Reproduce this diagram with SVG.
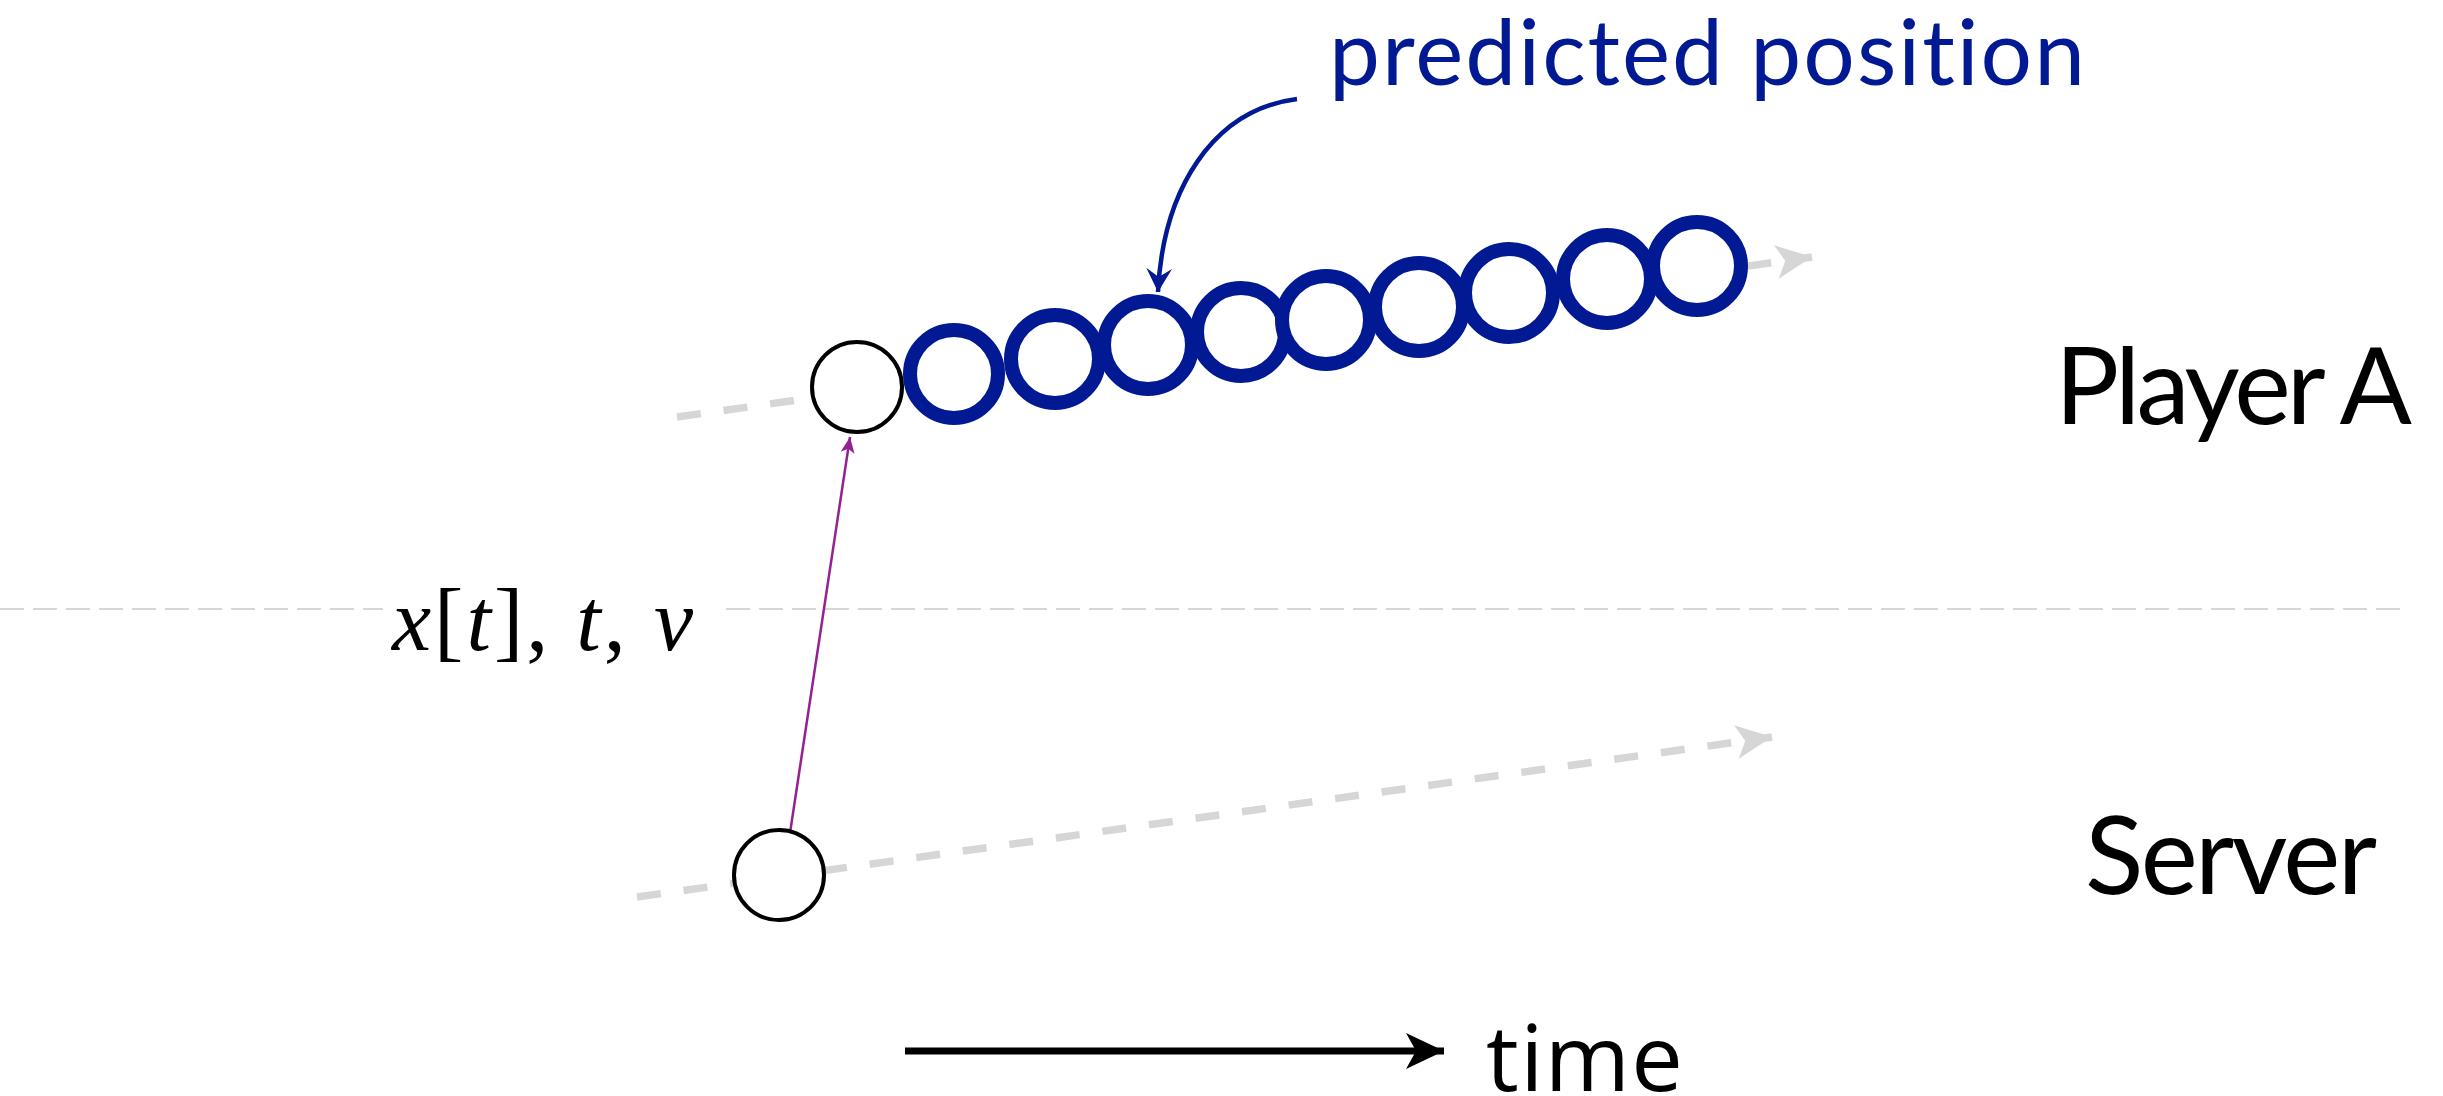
<svg xmlns="http://www.w3.org/2000/svg" width="2443" height="1096" viewBox="0 0 2443 1096">
  <style>
    .label { font-family: Lato, "Open Sans", "Liberation Sans", sans-serif; fill: #000; }
    .pred { font-family: Lato, "Open Sans", "Liberation Sans", sans-serif; fill: #011993; font-variant-ligatures: none; font-feature-settings: "liga" 0, "clig" 0, "dlig" 0, "calt" 0; }
    .math { font-family: "Liberation Serif", "DejaVu Serif", serif; fill: #000; }
    .track { fill: none; stroke: #d6d6d6; stroke-width: 7.5; stroke-dasharray: 24 23; }
    .sep { fill: none; stroke: #d6d6d6; stroke-width: 2; stroke-dasharray: 24 9; }
    .state { fill: #fff; stroke: #000; stroke-width: 4; }
    .pred-c { fill: #fff; stroke: #011993; stroke-width: 14; }
  </style>
  <defs>
    <marker id="grayHead" markerUnits="userSpaceOnUse" markerWidth="40" markerHeight="40" viewBox="-36 -20 40 40" refX="0" refY="0" orient="auto">
      <path d="M0,0 L-36,-17 L-27,0 L-36,17 Z" fill="#d6d6d6"/>
    </marker>
    <marker id="purpleHead" markerUnits="userSpaceOnUse" markerWidth="20" markerHeight="20" viewBox="-18 -10 20 20" refX="0" refY="0" orient="auto">
      <path d="M0,0 L-16,-7 L-12,0 L-16,7 Z" fill="#942193"/>
    </marker>
    <marker id="blueHead" markerUnits="userSpaceOnUse" markerWidth="30" markerHeight="30" viewBox="-24 -14 28 28" refX="0" refY="0" orient="auto">
      <path d="M0,0 L-22,-12 L-14,0 L-22,12 Z" fill="#011993"/>
    </marker>
    <marker id="blackHead" markerUnits="userSpaceOnUse" markerWidth="44" markerHeight="44" viewBox="-40 -22 44 44" refX="0" refY="0" orient="auto">
      <path d="M0,0 L-38,-18 L-28,0 L-38,18 Z" fill="#000"/>
    </marker>
  </defs>

  <!-- separator -->
  <line class="sep" x1="0" y1="609" x2="2400" y2="609"/>

  <!-- connectors -->
  <g id="connectors">
    <line id="trackA" class="track" x1="677" y1="417" x2="1812" y2="257" marker-end="url(#grayHead)"/>
    <line id="trackServer" class="track" x1="637" y1="897" x2="1772" y2="737" marker-end="url(#grayHead)"/>
    <line id="send" x1="790" y1="833" x2="850" y2="437" stroke="#942193" stroke-width="2.5" marker-end="url(#purpleHead)"/>
    <line id="timeArrow" x1="905" y1="1051" x2="1444" y2="1051" stroke="#000" stroke-width="7" marker-end="url(#blackHead)"/>
  </g>

  <!-- nodes -->
  <g id="serverState"><circle class="state" cx="779" cy="875" r="45"/></g>
  <g id="playerState"><circle class="state" cx="857" cy="387" r="45"/></g>
  <g id="predictions">
    <circle class="pred-c" cx="954" cy="374" r="44"/>
    <circle class="pred-c" cx="1055" cy="359" r="44"/>
    <circle class="pred-c" cx="1148" cy="345" r="44"/>
    <circle class="pred-c" cx="1241" cy="332" r="44"/>
    <circle class="pred-c" cx="1326" cy="320" r="44"/>
    <circle class="pred-c" cx="1419" cy="307" r="44"/>
    <circle class="pred-c" cx="1509" cy="293" r="44"/>
    <circle class="pred-c" cx="1607" cy="279" r="44"/>
    <circle class="pred-c" cx="1697" cy="266" r="44"/>
  </g>

  <g id="callout">
    <path d="M1297,99 C1212,110 1163,190 1158,292" fill="none" stroke="#011993" stroke-width="4.5" marker-end="url(#blueHead)"/>
    <text class="pred" x="1329" y="85" font-size="91" textLength="756">predicted position</text>
  </g>

  <g id="message">
    <rect x="383" y="572" width="334" height="108" fill="#fff"/>
    <text class="math" x="392" y="650" font-size="88" textLength="301"><tspan font-style="italic">x</tspan>[<tspan font-style="italic">t</tspan>], <tspan font-style="italic">t</tspan>, <tspan font-style="italic">v</tspan></text>
  </g>

  <g id="labels">
    <text class="label" x="2055" y="424" font-size="107" textLength="357">Player A</text>
    <text class="label" x="2085" y="894" font-size="108" textLength="292">Server</text>
    <text x="1486" y="1091" font-family="'Open Sans', 'DejaVu Sans', sans-serif" font-size="92" textLength="197">time</text>
  </g>
</svg>
